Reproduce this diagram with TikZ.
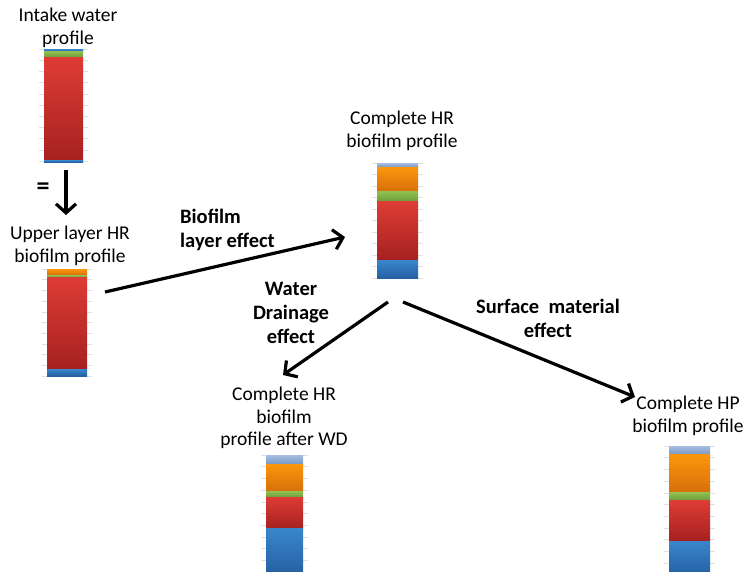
\documentclass[tikz,border=0pt]{standalone}
\usepackage{fontspec}
\setmainfont{Carlito}
\usetikzlibrary{arrows.meta, positioning}

\definecolor{redT}{RGB}{222,60,54}
\definecolor{redB}{RGB}{166,33,31}
\definecolor{orgT}{RGB}{252,150,12}
\definecolor{orgB}{RGB}{214,112,10}
\definecolor{grnT}{RGB}{146,194,84}
\definecolor{grnB}{RGB}{110,158,56}
\definecolor{bluT}{RGB}{58,134,204}
\definecolor{bluB}{RGB}{36,96,162}
\definecolor{lbuT}{RGB}{166,190,224}
\definecolor{lbuB}{RGB}{122,152,198}

\begin{document}
\begin{tikzpicture}[x=1pt, y=-1pt]
    \tikzstyle{title} = [align=center, font=\fontsize{19.5}{22.5}\selectfont, inner sep=0pt]
    \tikzstyle{effect} = [align=center, font=\fontsize{20.5}{24}\selectfont\bfseries, inner sep=0pt]
    \tikzstyle{bar} = [rectangle, inner sep=0pt, minimum width=40pt]
    \tikzstyle{tick} = [draw=gray!25, line width=0.6pt]
    \tikzstyle{arrow} = [line width=3.2pt, -{Straight Barb[length=9pt, width=20pt, line width=3.2pt]}]

    \useasboundingbox (0,0) rectangle (747,571);
    \clip (0,0) rectangle (747,571);

    % intake water profile
    \node (intakeTitle) [title] at (68,28) {Intake water\\profile};
    \node (intake) [bar, minimum height=112pt] at (63.5,105) {};
    \foreach \i in {0,...,10}
        \draw [tick] (39,{49+\i*11.2}) -- (88,{49+\i*11.2});
    \foreach \ya/\yb/\c in {49/51/blu, 51/57/grn, 57/160/red, 160/162/blu}
        \shade [top color=\c T, bottom color=\c B] (44,\ya) rectangle (83,\yb);
    \node (equal) [title, font=\fontsize{26}{26}\selectfont\bfseries] at (43,189) {=};

    % upper layer HR profile
    \node (upperTitle) [title] at (70,246) {Upper layer HR\\biofilm profile};
    \node (upper) [bar, minimum height=107pt] at (67,322.5) {};
    \foreach \i in {0,...,10}
        \draw [tick] (42,{269+\i*10.7}) -- (92,{269+\i*10.7});
    \foreach \ya/\yb/\c in {269/275/org, 275/277/grn, 277/369/red, 369/376/blu}
        \shade [top color=\c T, bottom color=\c B] (47,\ya) rectangle (87,\yb);

    % complete HR profile
    \node (completeTitle) [title] at (402,131) {Complete HR\\biofilm profile};
    \node (complete) [bar, minimum height=115pt] at (397.5,220.5) {};
    \foreach \i in {0,...,10}
        \draw [tick] (372,{163+\i*11.5}) -- (423,{163+\i*11.5});
    \foreach \ya/\yb/\c in {163/167/lbu, 167/191/org, 191/201/grn, 201/260/red, 260/278/blu}
        \shade [top color=\c T, bottom color=\c B] (377,\ya) rectangle (418,\yb);

    % complete HR profile after water drainage
    \node (drainedTitle) [title] at (284,418) {Complete HR\\biofilm\\profile after WD};
    \node (drained) [bar, minimum height=117pt] at (284.5,513.5) {};
    \foreach \i in {0,...,10}
        \draw [tick] (261,{455+\i*11.7}) -- (308,{455+\i*11.7});
    \foreach \ya/\yb/\c in {455/464/lbu, 464/491/org, 491/497/grn, 497/528/red, 528/575/blu}
        \shade [top color=\c T, bottom color=\c B] (266,\ya) rectangle (303,\yb);

    % complete HP profile
    \node (hpTitle) [title] at (688,416) {Complete HP\\biofilm profile};
    \node (hp) [bar, minimum height=125pt] at (689.5,508.5) {};
    \foreach \i in {0,...,10}
        \draw [tick] (664,{446+\i*11.7}) -- (715,{446+\i*11.7});
    \foreach \ya/\yb/\c in {446/454/lbu, 454/492/org, 492/500/grn, 500/541/red, 541/575/blu}
        \shade [top color=\c T, bottom color=\c B] (669,\ya) rectangle (710,\yb);

    % effect labels
    \node (layerLabel) [effect, align=left, anchor=west] at (180,230) {Biofilm\\layer effect};
    \node (drainLabel) [effect] at (291,313) {Water\\Drainage\\effect};
    \node (surfaceLabel) [effect] at (548,318) {Surface\ \ material\\effect};

    % arrow ends
    \coordinate (intakeOut) at (66,170);
    \coordinate (upperIn) at (66,215);
    \coordinate (upperOut) at (105,292);
    \coordinate (completeIn) at (345,237);
    \coordinate (drainStart) at (388,302);
    \coordinate (drainedIn) at (283,375);
    \coordinate (surfaceStart) at (403,302);
    \coordinate (hpIn) at (635,397);

    \draw [arrow] (intakeOut) -- (upperIn);
    \draw [arrow] (upperOut) -- (completeIn);
    \draw [arrow] (drainStart) -- (drainedIn);
    \draw [arrow] (surfaceStart) -- (hpIn);
\end{tikzpicture}
\end{document}
